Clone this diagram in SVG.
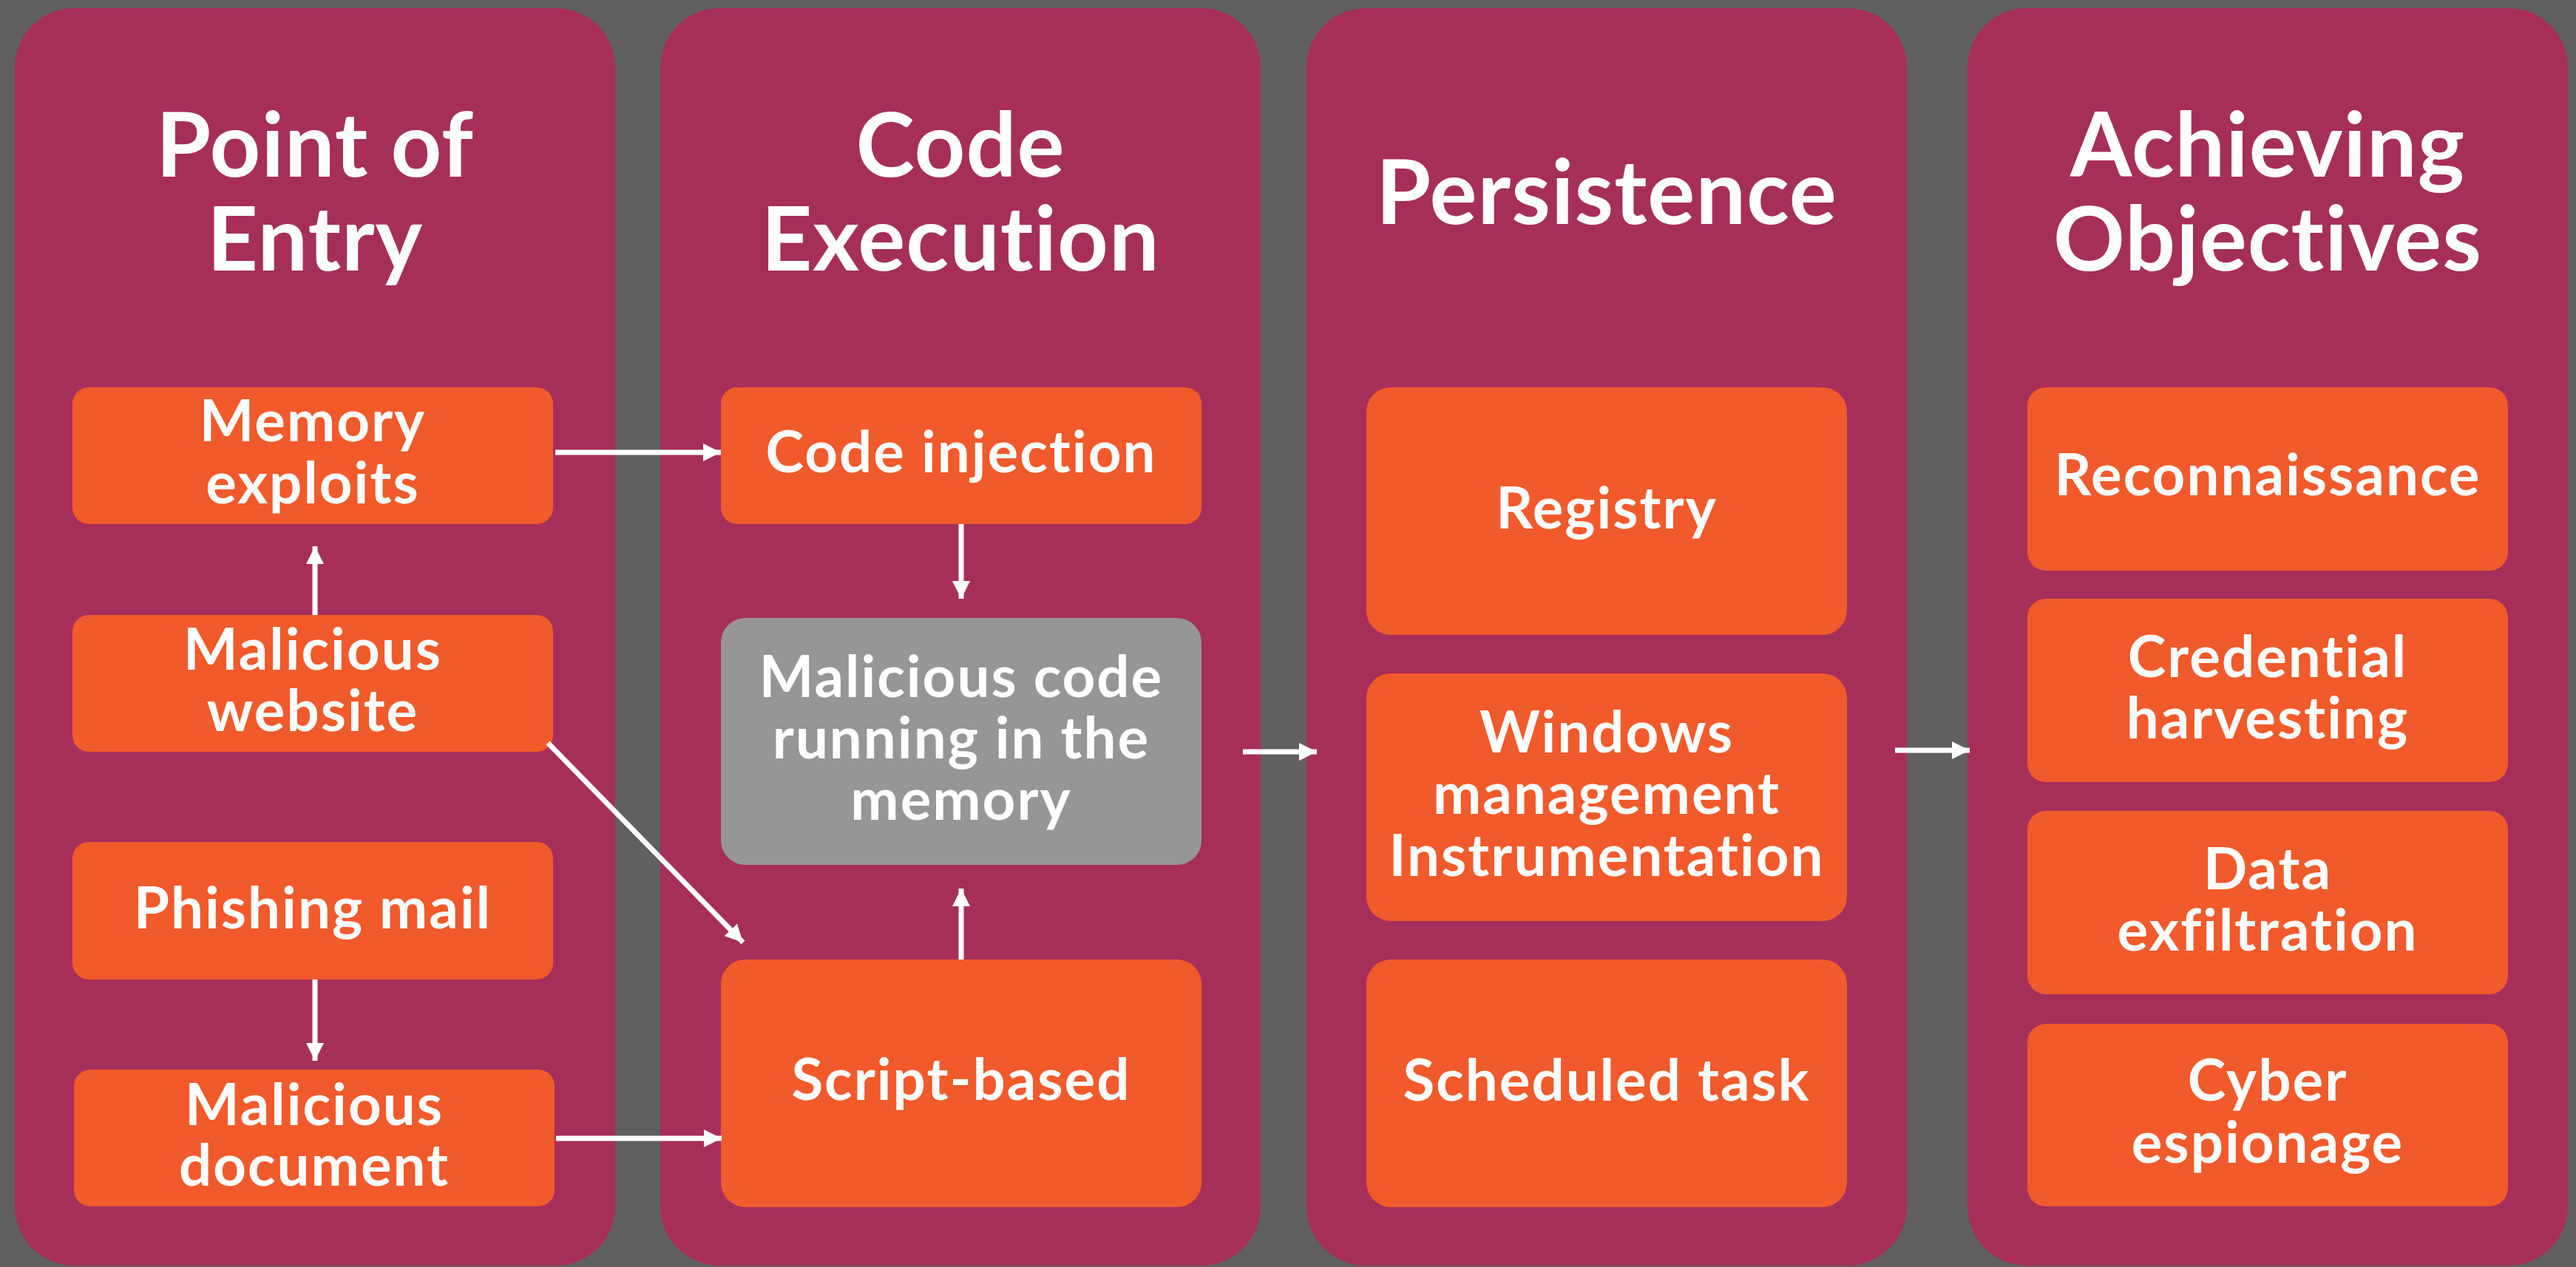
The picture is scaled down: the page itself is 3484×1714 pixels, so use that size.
<svg xmlns="http://www.w3.org/2000/svg" width="3484" height="1714" viewBox="0 0 3484 1714">
  <style>
    .col { fill: #A62F5A; }
    .box { fill: #F15A2B; }
    .mem { fill: #969696; }
    .title { font-family: Lato, "Noto Sans", sans-serif; font-weight: 700; font-size: 120px; fill: #FFFFFF; text-anchor: middle; letter-spacing: 1px; }
    .label { font-family: Lato, "Noto Sans", sans-serif; font-weight: 700; font-size: 78px; fill: #FFFFFF; text-anchor: middle; letter-spacing: 2px; }
    .conn { stroke: #FFFFFF; stroke-width: 7; fill: none; marker-end: url(#head); }
  </style>
  <defs>
    <marker id="head" markerUnits="userSpaceOnUse" markerWidth="24" markerHeight="24" refX="24" refY="12" orient="auto">
      <path d="M0,0 L24,12 L0,24 Z" fill="#FFFFFF"/>
    </marker>
  </defs>

  <!-- backdrop -->
  <rect x="0" y="0" width="3484" height="1714" fill="#606060"/>

  <!-- stage columns -->
  <g id="stage-entry">
    <rect class="col" x="20" y="11" width="812" height="1701" rx="80"/>
    <text class="title" x="426" y="239">Point of<tspan x="426" dy="127">Entry</tspan></text>
  </g>
  <g id="stage-execution">
    <rect class="col" x="893" y="11" width="812" height="1701" rx="80"/>
    <text class="title" x="1299" y="239">Code<tspan x="1299" dy="127">Execution</tspan></text>
  </g>
  <g id="stage-persistence">
    <rect class="col" x="1767" y="11" width="812" height="1701" rx="80"/>
    <text class="title" x="2173" y="303">Persistence</text>
  </g>
  <g id="stage-objectives">
    <rect class="col" x="2661" y="11" width="812" height="1701" rx="80"/>
    <text class="title" x="3067" y="239">Achieving<tspan x="3067" dy="127">Objectives</tspan></text>
  </g>

  <!-- point of entry -->
  <g id="memory-exploits">
    <rect class="box" x="98" y="524" width="650" height="185" rx="22"/>
    <text class="label" x="423" y="597">Memory<tspan x="423" dy="84">exploits</tspan></text>
  </g>
  <g id="malicious-website">
    <rect class="box" x="98" y="832" width="650" height="185" rx="22"/>
    <text class="label" x="423" y="906">Malicious<tspan x="423" dy="83">website</tspan></text>
  </g>
  <g id="phishing-mail">
    <rect class="box" x="98" y="1139" width="650" height="186" rx="22"/>
    <text class="label" x="423" y="1256">Phishing mail</text>
  </g>
  <g id="malicious-document">
    <rect class="box" x="100" y="1447" width="650" height="185" rx="22"/>
    <text class="label" x="425" y="1522">Malicious<tspan x="425" dy="82">document</tspan></text>
  </g>

  <!-- code execution -->
  <g id="code-injection">
    <rect class="box" x="975" y="524" width="650" height="185" rx="22"/>
    <text class="label" x="1300" y="639">Code injection</text>
  </g>
  <g id="code-in-memory">
    <rect class="mem" x="975" y="836" width="650" height="334" rx="33"/>
    <text class="label" x="1300" y="943">Malicious code<tspan x="1300" dy="83">running in the</tspan><tspan x="1300" dy="83">memory</tspan></text>
  </g>
  <g id="script-based">
    <rect class="box" x="975" y="1298" width="650" height="335" rx="33"/>
    <text class="label" x="1300" y="1488">Script-based</text>
  </g>

  <!-- persistence -->
  <g id="registry">
    <rect class="box" x="1848" y="524" width="650" height="335" rx="33"/>
    <text class="label" x="2173" y="715">Registry</text>
  </g>
  <g id="wmi">
    <rect class="box" x="1848" y="911" width="650" height="335" rx="33"/>
    <text class="label" x="2173" y="1018">Windows<tspan x="2173" dy="83">management</tspan><tspan x="2173" dy="84">Instrumentation</tspan></text>
  </g>
  <g id="scheduled-task">
    <rect class="box" x="1848" y="1298" width="650" height="335" rx="33"/>
    <text class="label" x="2173" y="1489">Scheduled task</text>
  </g>

  <!-- achieving objectives -->
  <g id="reconnaissance">
    <rect class="box" x="2742" y="524" width="650" height="248" rx="25"/>
    <text class="label" x="3067" y="670">Reconnaissance</text>
  </g>
  <g id="credential-harvesting">
    <rect class="box" x="2742" y="810" width="650" height="248" rx="25"/>
    <text class="label" x="3067" y="916">Credential<tspan x="3067" dy="83">harvesting</tspan></text>
  </g>
  <g id="data-exfiltration">
    <rect class="box" x="2742" y="1097" width="650" height="248" rx="25"/>
    <text class="label" x="3067" y="1203">Data<tspan x="3067" dy="83">exfiltration</tspan></text>
  </g>
  <g id="cyber-espionage">
    <rect class="box" x="2742" y="1385" width="650" height="247" rx="25"/>
    <text class="label" x="3067" y="1489">Cyber<tspan x="3067" dy="84">espionage</tspan></text>
  </g>

  <!-- connectors -->
  <g id="connectors">
    <line class="conn" x1="426" y1="832" x2="426" y2="739"/>
    <line class="conn" x1="426" y1="1325" x2="426" y2="1435"/>
    <line class="conn" x1="751" y1="612" x2="975" y2="612"/>
    <line class="conn" x1="752" y1="1540" x2="976" y2="1540"/>
    <line class="conn" x1="741" y1="1005" x2="1005" y2="1275"/>
    <line class="conn" x1="1300" y1="709" x2="1300" y2="810"/>
    <line class="conn" x1="1300" y1="1298" x2="1300" y2="1202"/>
    <line class="conn" x1="1681" y1="1017" x2="1781" y2="1017"/>
    <line class="conn" x1="2563" y1="1015" x2="2664" y2="1015"/>
  </g>
</svg>
